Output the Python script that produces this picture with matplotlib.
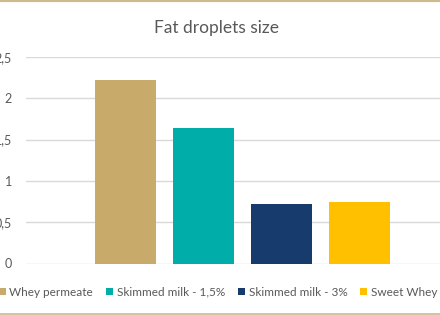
import matplotlib
matplotlib.use("Agg")
import matplotlib.pyplot as plt
from matplotlib.lines import Line2D
from matplotlib.patches import Patch
from matplotlib.ticker import FuncFormatter

categories = ["Whey permeate", "Skimmed milk - 1,5%", "Skimmed milk - 3%", "Sweet Whey"]
values = [2.22, 1.64, 0.72, 0.75]
colors = ["#C8AB6B", "#00ADA8", "#173B6D", "#FFC000"]
yticks = [0, 0.5, 1, 1.5, 2, 2.5]

plt.rcParams['font.family'] = ['Lato', 'DejaVu Sans']

fig = plt.figure(figsize=(4.4, 3.15), dpi=100)
fig.patch.set_facecolor("white")

W, H = 440, 315
ax = fig.add_axes([26 / W, 51.5 / H, 431 / W, 206.5 / H])
ax.set_facecolor("white")

x = list(range(len(values)))
ax.bar(x, values, width=0.78, color=colors, zorder=3)

ax.set_xlim(-1.27, 4.25)
ax.set_ylim(0, 2.5)
ax.set_yticks(yticks)
ax.yaxis.set_major_formatter(FuncFormatter(lambda v, p: f"{v:g}".replace(".", ",")))
ax.set_xticks([])
ax.tick_params(axis="y", length=0, pad=10, labelsize=9, labelcolor="#595959")
ax.grid(axis="y", color="#D9D9D9", linewidth=1, zorder=0)
for s in ax.spines.values():
    s.set_visible(False)

fig.text(216 / W, 1 - 28 / H, "Fat droplets size", ha="center", va="center",
         fontsize=12.5, color="#595959")

handles = [Patch(facecolor=c, edgecolor="none") for c in colors]
fig.legend(handles, categories, loc="center", bbox_to_anchor=(218 / W, 1 - 292 / H),
           ncol=4, frameon=False, fontsize=8.5, labelcolor="#595959",
           handlelength=0.6, handleheight=0.6, handletextpad=0.3, columnspacing=1.1,
           borderaxespad=0, borderpad=0)

# thin gold frame lines at top and bottom
fig.add_artist(Line2D([0, 1], [1 - 0.8 / H, 1 - 0.8 / H], transform=fig.transFigure,
                      color="#CDB98A", linewidth=1.5))
fig.add_artist(Line2D([0, 1], [1 - 313.5 / H, 1 - 313.5 / H], transform=fig.transFigure,
                      color="#CDB98A", linewidth=1.2))

plt.savefig("out.png", dpi=100)
